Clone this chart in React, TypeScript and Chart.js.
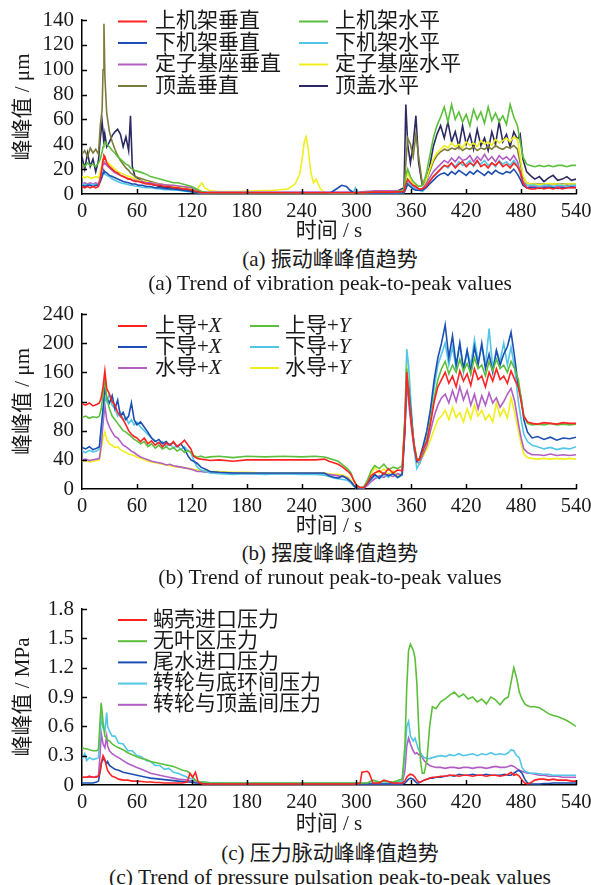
import React, { useEffect, useRef } from "react";
import { Chart, registerables } from "chart.js";
Chart.register(...registerables);

const FONT = '"Liberation Serif", "Noto Sans CJK SC", serif';
const TEXT = "#1a1a1a";

const C_RED = "#ff2222";
const C_GREEN = "#5cbf3c";
const C_BLUE = "#1d4fb2";
const C_CYAN = "#52c6e6";
const C_MAGENTA = "#b25ec4";
const C_YELLOW = "#f0ef1c";
const C_OLIVE = "#7c7b3c";
const C_NAVY = "#2b2b62";

const xTickLabels = ["0", "60", "120", "180", "240", "300", "360", "420", "480", "540"];

// ---------- Panel (a): vibration peak-to-peak (μm) ----------
const timeA = [
  0, 3, 6, 9, 12, 15, 18, 20, 22, 23,
  24, 25, 27, 30, 33, 36, 39, 42, 45, 48,
  51, 53, 55, 58, 62, 66, 70, 75, 80, 85,
  90, 95, 100, 105, 110, 115, 120, 125, 128, 131,
  134, 140, 150, 170, 190, 210, 225, 233, 238, 241,
  243, 245, 247, 250, 253, 256, 260, 265, 272, 278,
  284, 289, 293, 297, 299, 302, 320, 340, 352, 354,
  356, 359, 362, 365, 368, 372, 376, 380, 384, 388,
  392, 396, 400, 404, 408, 412, 416, 420, 424, 428,
  432, 436, 440, 444, 448, 452, 456, 460, 464, 468,
  472, 476, 479, 482, 486, 490, 495, 500, 505, 510,
  515, 520, 525, 530, 535, 540,
];
const upperFrameVert = [
  6, 5, 6, 5, 6, 5, 6, 12, 22, 28,
  31, 30, 25, 22, 20, 18, 17, 15, 14, 13,
  12, 12, 11, 10, 10, 9, 8, 8, 7, 7,
  6, 6, 5, 5, 4, 4, 3, 2, 1.5, 1,
  1, 1, 1, 1, 1, 1, 1, 1, 1, 1,
  1, 1, 1, 1, 1, 1, 1, 1, 1, 1,
  1, 1, 1, 1, 1, 1, 1.5, 1.5, 2, 8,
  12, 9, 7, 6, 4, 4, 6, 10, 14, 17,
  20, 23, 22, 25, 21, 24, 26, 22, 25, 23,
  27, 22, 24, 21, 25, 23, 26, 22, 24, 21,
  25, 22, 18, 9, 5, 4, 4, 5, 4, 5,
  4, 5, 4, 5, 5, 5,
];
const upperFrameHoriz = [
  24, 22, 25, 23, 24, 22, 25, 28, 34, 38,
  40, 42, 40, 38, 35, 33, 30, 28, 26, 24,
  23, 21, 20, 19, 18, 17, 16, 14, 13, 12,
  11, 10, 9, 9, 8, 7, 6, 4, 3, 2,
  1.5, 1, 1, 1, 1, 1, 1, 1, 1, 1,
  1, 1, 1, 1, 1, 1, 1, 1, 1, 1,
  1, 1, 1, 1, 1, 1, 1.5, 1.5, 3, 15,
  20, 14, 10, 8, 6, 7, 15, 30, 45, 55,
  62, 70, 58, 72, 60, 66, 58, 64, 55, 68,
  60, 66, 57, 70, 59, 65, 58, 63, 56, 72,
  62, 55, 42, 30, 24, 23, 22, 23, 22, 23,
  22, 23, 23, 22, 23, 23,
];
const lowerFrameVert = [
  7, 6, 7, 7, 6, 7, 7, 10, 14, 17,
  19, 18, 17, 15, 14, 13, 12, 11, 10, 9.5,
  9, 8.5, 8, 8, 7, 7, 6, 6, 5, 5,
  4.5, 4, 4, 3.5, 3, 2.5, 2, 1.5, 1, 1,
  1, 0.8, 0.8, 0.8, 0.8, 0.8, 0.8, 0.8, 0.8, 0.8,
  0.8, 0.8, 0.8, 0.8, 0.8, 0.8, 0.8, 0.8, 1, 4,
  7, 6, 3, 1, 0.8, 0.8, 0.8, 0.8, 1, 4,
  8, 6, 4, 3, 3, 3, 5, 8, 11, 14,
  16, 17, 15, 18, 16, 19, 17, 15, 18, 16,
  19, 17, 15, 18, 16, 19, 17, 16, 18, 17,
  20, 16, 12, 7, 5, 5, 5, 4.5, 5, 5.5,
  5, 4.5, 5, 5, 5.5, 5,
];
const lowerFrameHoriz = [
  8, 7, 8, 7, 8, 7, 8, 11, 14, 16,
  17, 16, 15, 14, 12, 11, 10, 9, 8.5, 8,
  7.5, 7, 7, 6.5, 6, 5.5, 5, 5, 4.5, 4,
  3.5, 3.5, 3, 3, 2.5, 2, 1.5, 1, 0.8, 0.5,
  0.5, 0.5, 0.5, 0.5, 0.5, 0.5, 0.5, 0.5, 0.5, 0.5,
  0.5, 0.5, 0.5, 0.5, 0.5, 0.5, 0.5, 0.5, 0.5, 0.5,
  0.5, 0.5, 0.5, 2, 5, 1, 0.5, 0.5, 1, 6,
  10, 8, 5, 4, 3, 2, 5, 10, 14, 17,
  20, 23, 21, 25, 22, 26, 23, 24, 27, 22,
  26, 24, 27, 23, 25, 22, 27, 24, 26, 23,
  27, 23, 16, 9, 7, 7, 7, 6, 7, 7,
  6, 7, 7, 6, 7, 7,
];
const statorVert = [
  8, 9, 8, 9, 8, 9, 8, 13, 20, 24,
  26, 25, 23, 21, 19, 17, 16, 15, 14, 13,
  12, 12, 11, 11, 10, 10, 9, 9, 8, 8,
  7.5, 7, 7, 6.5, 6, 5.5, 5, 3.5, 2, 1.5,
  1.5, 1.5, 1.5, 1.5, 1.5, 1.5, 1.5, 1.5, 1.5, 1.5,
  1.5, 1.5, 1.5, 1.5, 1.5, 1.5, 1.5, 1.5, 1.5, 1.5,
  1.5, 1.5, 1.5, 1.5, 1.5, 1.5, 2.5, 2.5, 3, 7,
  10, 8, 6, 5, 4, 4, 8, 13, 18, 21,
  24, 27, 25, 29, 26, 30, 27, 28, 31, 26,
  30, 27, 32, 27, 30, 26, 31, 28, 30, 27,
  31, 26, 18, 10, 7, 6, 6, 6, 6, 7,
  6, 6, 6, 7, 6, 6,
];
const statorHoriz = [
  14, 13, 14, 13, 13, 14, 13, 18, 24, 28,
  30, 29, 26, 24, 22, 20, 18, 17, 16, 15,
  14, 14, 13, 12, 11, 10, 10, 9, 8.5, 8,
  7.5, 7, 6.5, 6, 5.5, 5, 4, 3, 6, 9,
  5, 2.5, 2, 2, 2.5, 3, 4, 8, 16, 30,
  42, 46, 38, 18, 9, 12, 5, 1, 0.5, 0.5,
  0.5, 0.5, 0.5, 0.5, 0.5, 0.5, 0.5, 0.5, 2, 12,
  17, 12, 8, 6, 4, 4, 10, 20, 28, 33,
  36, 39, 37, 41, 38, 40, 37, 42, 39, 41,
  38, 43, 40, 42, 39, 44, 41, 43, 45, 42,
  46, 44, 30, 15, 9, 8, 8, 7.5, 8, 8.5,
  8, 8, 7.5, 8, 8, 8,
];
const headCoverVert = [
  32, 35, 30, 37, 33, 36, 32, 55, 68, 100,
  137, 95, 65, 50, 42, 36, 31, 27, 24, 21,
  19, 17, 16, 14, 13, 12, 11, 10, 9, 8,
  7.5, 7, 6, 5.5, 5, 4.5, 4, 3, 2, 1.5,
  1, 1, 1, 1, 1, 1, 1, 1, 1, 1,
  1, 1, 1, 1, 1, 1, 1, 1, 1, 1,
  1, 1, 1, 1, 1, 1, 1, 1, 3, 25,
  45, 40, 30, 48, 30, 8, 10, 18, 26, 31,
  34, 36, 35, 37, 36, 38, 35, 37, 36, 38,
  35, 37, 36, 38, 36, 39, 37, 36, 38, 37,
  39, 36, 25, 14, 9, 8, 8, 8, 8, 8,
  8, 8, 8, 8, 8, 8,
];
const headCoverHoriz = [
  30, 20, 33, 22, 28, 18, 27, 45, 58, 50,
  40, 48, 38, 42, 47, 50, 52, 48, 38, 46,
  35, 63, 22, 14, 12, 10, 9, 8, 7, 6,
  5.5, 5, 4.5, 4, 3.5, 3, 2.5, 2, 1.5, 1,
  1, 0.7, 0.7, 0.7, 0.7, 0.7, 0.7, 0.7, 0.7, 0.7,
  0.7, 0.7, 0.7, 0.7, 0.7, 0.7, 0.7, 0.7, 0.7, 0.7,
  0.7, 0.7, 0.7, 0.7, 0.7, 0.7, 0.7, 0.7, 5, 72,
  40, 25, 40, 63, 25, 7, 10, 22, 38, 48,
  55, 45, 58, 42, 50, 38, 55, 40, 48, 36,
  52, 39, 45, 35, 50, 40, 58, 42, 48, 38,
  50, 44, 48, 28, 18, 15, 12, 14, 10, 13,
  15, 11, 12, 14, 11, 12,
];
const yTicksA = [0, 20, 40, 60, 80, 100, 120, 140];

// ---------- Panel (b): runout peak-to-peak (μm) ----------
const timeB = [
  0, 4, 8, 12, 16, 19, 21, 23, 25, 27,
  30, 33, 36, 39, 42, 45, 48, 51, 54, 57,
  60, 64, 68, 72, 76, 80, 84, 88, 92, 96,
  100, 104, 108, 112, 116, 119, 122, 126, 130, 135,
  140, 150, 165, 180, 200, 220, 240, 255, 265, 270,
  275, 280, 285, 290, 294, 297, 300, 304, 308, 312,
  316, 320, 325, 330, 335, 340, 345, 350, 353, 355,
  357, 360, 363, 366, 369, 373, 377, 381, 385, 389,
  393, 397, 401, 405, 409, 413, 417, 421, 425, 429,
  433, 437, 441, 445, 449, 453, 457, 461, 465, 469,
  473, 477, 480, 483, 487, 492, 498, 505, 512, 519,
  526, 533, 540,
];
const upperGuideX = [
  117, 115, 118, 114, 116, 118, 125, 140, 162, 138,
  130, 120, 115, 105, 100, 95, 88, 80, 75, 72,
  70, 65, 70, 62, 66, 60, 64, 58, 63, 60,
  65, 58, 62, 67, 60, 55, 45, 42, 41, 40,
  39, 40, 38, 40, 40, 40, 40, 40, 41, 38,
  36, 34, 30, 25, 20, 12, 5, 2, 2, 8,
  18, 22, 25, 20, 28, 22, 26, 25, 90, 160,
  130, 90, 60, 40, 40, 55, 65, 90, 120, 140,
  150, 160, 145, 155, 140, 162, 148, 158, 142, 165,
  150, 155, 140, 160, 148, 165, 150, 155, 145, 162,
  150, 140, 120, 100, 92, 90, 89, 91, 90, 89,
  91, 90, 90,
];
const upperGuideY = [
  98, 100, 97, 99, 98, 100, 110, 130, 150, 125,
  110, 100, 95, 90, 85, 80, 78, 75, 72, 68,
  66, 62, 65, 58, 62, 56, 60, 55, 58, 54,
  57, 52, 55, 50, 53, 50, 46, 44, 45, 43,
  44, 45, 43, 45, 44, 45, 44, 45, 44, 42,
  40, 38, 33, 28, 22, 12, 5, 2, 3, 12,
  25, 32, 28, 34, 26, 30, 28, 32, 95, 165,
  135, 95, 62, 42, 40, 52, 68, 95, 125, 150,
  165, 175, 158, 170, 160, 178, 162, 172, 158, 180,
  165, 170, 155, 175, 162, 178, 165, 170, 160, 175,
  165, 150, 125, 100, 90, 88, 89, 88, 90, 88,
  89, 88, 89,
];
const lowerGuideX = [
  57, 55, 58, 54, 56, 58, 85, 110, 140, 125,
  118, 128, 110, 122, 100, 105, 95, 100, 118, 95,
  88, 92, 85, 78, 70, 65, 68, 62, 65, 60,
  64, 58, 62, 55, 45, 40, 38, 35, 30, 27,
  24, 23, 22, 22, 22, 22, 22, 22, 22, 18,
  16, 15, 18, 14, 10, 5, 1, 1, 2, 8,
  14, 20, 15, 22, 18, 21, 16, 20, 80, 150,
  140, 100, 60, 38, 42, 60, 80, 110, 150, 180,
  200, 225, 180, 210, 170, 200, 165, 190, 160, 195,
  170, 200, 165, 185, 160, 190, 170, 185, 195, 215,
  180, 140, 125, 95, 78, 70, 72, 68, 71, 67,
  70, 69, 71,
];
const lowerGuideY = [
  52, 50, 53, 51, 52, 55, 80, 105, 125, 120,
  130, 115, 110, 100, 105, 95, 98, 90, 95, 88,
  92, 85, 80, 75, 70, 66, 62, 65, 58, 62,
  56, 60, 54, 58, 52, 50, 40, 30, 26, 24,
  22, 21, 20, 21, 20, 21, 20, 20, 19, 17,
  15, 14, 13, 12, 8, 4, 1, 1, 2, 7,
  12, 18, 14, 20, 16, 22, 15, 19, 100, 192,
  170, 110, 55, 28, 35, 55, 78, 105, 140, 170,
  185, 200, 170, 195, 165, 200, 160, 190, 170, 205,
  175, 195, 170, 220, 165, 190, 175, 200, 170, 195,
  165, 120, 95, 75, 65, 60, 58, 55, 57, 54,
  56, 55, 58,
];
const turbineGuideX = [
  40, 41, 39, 40, 41, 42, 60, 90, 115, 95,
  85, 78, 72, 70, 65, 60, 58, 55, 52, 50,
  47, 44, 42, 40, 38, 37, 36, 35, 33, 34,
  32, 31, 30, 29, 28, 27, 26, 24, 24, 23,
  23, 22, 22, 21, 21, 21, 21, 21, 21, 20,
  19, 18, 17, 15, 10, 5, 1, 0.5, 1, 5,
  10, 14, 18, 16, 20, 17, 21, 19, 80, 145,
  120, 85, 55, 38, 35, 48, 60, 80, 100, 115,
  125, 130, 118, 135, 120, 140, 122, 135, 115, 130,
  110, 128, 115, 132, 118, 125, 112, 120, 130, 138,
  120, 90, 70, 55, 50, 47, 47, 46, 48, 46,
  47, 46, 47,
];
const turbineGuideY = [
  38, 39, 37, 38, 39, 40, 55, 70, 78, 68,
  62, 60, 57, 58, 54, 52, 50, 48, 47, 46,
  44, 42, 40, 38, 37, 36, 35, 34, 33, 32,
  31, 30, 30, 29, 28, 28, 27, 26, 25, 25,
  24, 24, 23, 23, 22, 22, 22, 22, 22, 21,
  20, 20, 19, 17, 12, 6, 1, 0.5, 2, 10,
  20, 30, 22, 28, 20, 25, 18, 22, 100, 180,
  140, 90, 55, 35, 38, 45, 55, 68, 82, 95,
  100, 108, 95, 112, 98, 105, 92, 110, 96, 115,
  100, 108, 95, 102, 92, 118, 100, 110, 97, 125,
  105, 80, 62, 48, 43, 42, 41, 42, 41, 42,
  41, 42, 41,
];
const yTicksB = [0, 40, 80, 120, 160, 200, 240];

// ---------- Panel (c): pressure pulsation peak-to-peak (MPa) ----------
const timeC = [
  0, 3, 5, 8, 12, 16, 18, 20, 21, 23,
  25, 27, 28, 30, 33, 36, 40, 45, 50, 55,
  60, 65, 70, 75, 80, 85, 90, 95, 100, 105,
  110, 115, 118, 121, 124, 127, 132, 140, 160, 200,
  240, 280, 300, 304, 306, 312, 314, 318, 325, 330,
  340, 350, 353, 355, 357, 359, 362, 364, 366, 368,
  370, 372, 374, 377, 380, 383, 387, 392, 397, 402,
  407, 412, 417, 422, 427, 432, 437, 442, 447, 452,
  457, 462, 466, 469, 472, 475, 478, 481, 484, 487,
  490, 495, 500, 505, 510, 515, 520, 525, 530, 535,
  540,
];
const spiralInlet = [
  0.08, 0.08, 0.08, 0.09, 0.08, 0.08, 0.09, 0.15, 0.22, 0.30,
  0.26, 0.18, 0.15, 0.12, 0.09, 0.08, 0.06, 0.05, 0.05, 0.04,
  0.04, 0.035, 0.03, 0.03, 0.025, 0.025, 0.02, 0.02, 0.02, 0.02,
  0.02, 0.03, 0.12, 0.08, 0.13, 0.03, 0.01, 0.01, 0.01, 0.01,
  0.01, 0.01, 0.01, 0.02, 0.13, 0.14, 0.12, 0.02, 0.02, 0.05,
  0.02, 0.02, 0.04, 0.08, 0.10, 0.11, 0.10, 0.08, 0.05, 0.03,
  0.03, 0.04, 0.05, 0.06, 0.07, 0.08, 0.08, 0.09, 0.09, 0.10,
  0.10, 0.09, 0.10, 0.10, 0.09, 0.10, 0.10, 0.09, 0.10, 0.10,
  0.09, 0.10, 0.11, 0.13, 0.10, 0.11, 0.09, 0.05, 0.02, 0.01,
  0.02, 0.05, 0.06, 0.06, 0.05, 0.06, 0.05, 0.05, 0.05, 0.04,
  0.04,
];
const vanelessSpace = [
  0.38, 0.37, 0.37, 0.36, 0.35, 0.35, 0.36, 0.70, 0.84, 0.65,
  0.50, 0.48, 0.46, 0.45, 0.42, 0.40, 0.38, 0.36, 0.33, 0.31,
  0.29, 0.27, 0.26, 0.24, 0.23, 0.22, 0.21, 0.20, 0.19, 0.17,
  0.15, 0.14, 0.12, 0.08, 0.05, 0.03, 0.03, 0.02, 0.02, 0.02,
  0.02, 0.02, 0.02, 0.02, 0.02, 0.02, 0.03, 0.05, 0.03, 0.04,
  0.03, 0.06, 0.40, 1.00, 1.38, 1.44, 1.38, 1.30, 1.05, 0.60,
  0.25, 0.12, 0.12, 0.25, 0.60, 0.80, 0.78, 0.85, 0.88, 0.92,
  0.95, 0.90, 0.93, 0.88, 0.90, 0.85, 0.88, 0.83, 0.90, 0.87,
  0.82, 0.88, 0.90, 1.05, 1.20, 1.10, 0.95, 0.88, 0.83, 0.81,
  0.80, 0.80, 0.79, 0.76, 0.73, 0.71, 0.70, 0.68, 0.66, 0.63,
  0.60,
];
const draftInlet = [
  0.02, 0.02, 0.02, 0.02, 0.02, 0.03, 0.04, 0.15, 0.22, 0.27,
  0.25, 0.22, 0.24, 0.20, 0.18, 0.16, 0.15, 0.13, 0.12, 0.11,
  0.10, 0.09, 0.08, 0.07, 0.065, 0.06, 0.055, 0.05, 0.045, 0.04,
  0.035, 0.03, 0.03, 0.025, 0.02, 0.02, 0.015, 0.01, 0.01, 0.01,
  0.01, 0.01, 0.01, 0.01, 0.01, 0.01, 0.01, 0.01, 0.01, 0.01,
  0.01, 0.01, 0.02, 0.04, 0.06, 0.07, 0.06, 0.04, 0.02, 0.02,
  0.03, 0.04, 0.05, 0.06, 0.07, 0.07, 0.08, 0.08, 0.09, 0.10,
  0.09, 0.11, 0.10, 0.10, 0.11, 0.10, 0.10, 0.11, 0.10, 0.10,
  0.10, 0.11, 0.10, 0.10, 0.12, 0.14, 0.15, 0.12, 0.06, 0.02,
  0.01, 0.01, 0.01, 0.015, 0.015, 0.02, 0.02, 0.02, 0.02, 0.02,
  0.02,
];
const runnerBottomRing = [
  0.27, 0.32, 0.25, 0.28, 0.26, 0.27, 0.28, 0.55, 0.70, 0.58,
  0.55, 0.74, 0.60, 0.55, 0.50, 0.50, 0.43, 0.42, 0.35, 0.35,
  0.30, 0.29, 0.25, 0.24, 0.20, 0.20, 0.16, 0.17, 0.13, 0.12,
  0.10, 0.08, 0.07, 0.06, 0.04, 0.03, 0.03, 0.025, 0.02, 0.02,
  0.02, 0.02, 0.02, 0.02, 0.02, 0.02, 0.02, 0.02, 0.02, 0.02,
  0.02, 0.04, 0.30, 0.60, 0.65, 0.50, 0.45, 0.48, 0.42, 0.36,
  0.33, 0.30, 0.28, 0.27, 0.27, 0.28, 0.29, 0.30, 0.29, 0.31,
  0.30, 0.32, 0.30, 0.31, 0.32, 0.30, 0.32, 0.31, 0.33, 0.31,
  0.32, 0.31, 0.33, 0.36, 0.35, 0.30, 0.28, 0.18, 0.14, 0.13,
  0.12, 0.12, 0.115, 0.11, 0.11, 0.10, 0.10, 0.10, 0.10, 0.10,
  0.10,
];
const runnerHeadCover = [
  0.08, 0.08, 0.08, 0.08, 0.08, 0.09, 0.09, 0.35, 0.53, 0.42,
  0.38, 0.50, 0.40, 0.35, 0.32, 0.30, 0.28, 0.25, 0.22, 0.20,
  0.18, 0.16, 0.14, 0.12, 0.11, 0.10, 0.09, 0.08, 0.07, 0.06,
  0.055, 0.05, 0.045, 0.04, 0.03, 0.02, 0.015, 0.01, 0.01, 0.01,
  0.01, 0.01, 0.01, 0.01, 0.01, 0.01, 0.01, 0.01, 0.01, 0.01,
  0.01, 0.01, 0.15, 0.40, 0.48, 0.42, 0.35, 0.32, 0.33, 0.31,
  0.32, 0.28, 0.25, 0.22, 0.20, 0.19, 0.18, 0.18, 0.17, 0.18,
  0.18, 0.17, 0.18, 0.18, 0.17, 0.18, 0.18, 0.17, 0.18, 0.19,
  0.18, 0.18, 0.19, 0.20, 0.19, 0.17, 0.15, 0.14, 0.13, 0.12,
  0.12, 0.11, 0.10, 0.10, 0.09, 0.09, 0.09, 0.08, 0.08, 0.08,
  0.08,
];
const yTicksC = [0, 0.3, 0.6, 0.9, 1.2, 1.5, 1.8];

// ---------- panel specs ----------
type Series = { label: string; color: string; values: number[] };
type Panel = {
  top: number;
  height: number;
  xAxisH: number;
  time: number[];
  series: Series[];
  yTicks: number[];
  yTitle: string;
  legendCols: number;
  legendLineX: number[];
  legendTextX: number[];
  legendY0: number;
  legendDy: number;
  captionCn: string;
  captionEn: string;
  capCnY: number;
  capEnY: number;
};

const panels: Panel[] = [
  {
    top: 0, height: 244, xAxisH: 50, time: timeA,
    series: [
      { label: "上机架垂直", color: C_RED, values: upperFrameVert },
      { label: "上机架水平", color: C_GREEN, values: upperFrameHoriz },
      { label: "下机架垂直", color: C_BLUE, values: lowerFrameVert },
      { label: "下机架水平", color: C_CYAN, values: lowerFrameHoriz },
      { label: "定子基座垂直", color: C_MAGENTA, values: statorVert },
      { label: "定子基座水平", color: C_YELLOW, values: statorHoriz },
      { label: "顶盖垂直", color: C_OLIVE, values: headCoverVert },
      { label: "顶盖水平", color: C_NAVY, values: headCoverHoriz },
    ],
    yTicks: yTicksA, yTitle: "峰峰值 / μm",
    legendCols: 2, legendLineX: [118, 299], legendTextX: [155, 335], legendY0: 21.5, legendDy: 21.5,
    captionCn: "(a) 振动峰峰值趋势", captionEn: "(a) Trend of vibration peak-to-peak values",
    capCnY: 259, capEnY: 283,
  },
  {
    top: 294, height: 245, xAxisH: 50, time: timeB,
    series: [
      { label: "上导+X", color: C_RED, values: upperGuideX },
      { label: "上导+Y", color: C_GREEN, values: upperGuideY },
      { label: "下导+X", color: C_BLUE, values: lowerGuideX },
      { label: "下导+Y", color: C_CYAN, values: lowerGuideY },
      { label: "水导+X", color: C_MAGENTA, values: turbineGuideX },
      { label: "水导+Y", color: C_YELLOW, values: turbineGuideY },
    ],
    yTicks: yTicksB, yTitle: "峰峰值 / μm",
    legendCols: 2, legendLineX: [118, 250], legendTextX: [155, 285], legendY0: 32, legendDy: 21,
    captionCn: "(b) 摆度峰峰值趋势", captionEn: "(b) Trend of runout peak-to-peak values",
    capCnY: 553, capEnY: 577,
  },
  {
    top: 589, height: 248, xAxisH: 52, time: timeC,
    series: [
      { label: "蜗壳进口压力", color: C_RED, values: spiralInlet },
      { label: "无叶区压力", color: C_GREEN, values: vanelessSpace },
      { label: "尾水进口压力", color: C_BLUE, values: draftInlet },
      { label: "转轮与底环间压力", color: C_CYAN, values: runnerBottomRing },
      { label: "转轮与顶盖间压力", color: C_MAGENTA, values: runnerHeadCover },
    ],
    yTicks: yTicksC, yTitle: "峰峰值 / MPa",
    legendCols: 1, legendLineX: [118], legendTextX: [153], legendY0: 31, legendDy: 21.2,
    captionCn: "(c) 压力脉动峰峰值趋势", captionEn: "(c) Trend of pressure pulsation peak-to-peak values",
    capCnY: 853, capEnY: 877,
  },
];

const LEGEND_SIZE = 21;

function overlayPlugin(p: Panel) {
  return {
    id: "panelOverlay",
    afterDraw(chart: any) {
      const ctx: CanvasRenderingContext2D = chart.ctx;
      const area = chart.chartArea;
      ctx.save();
      // inward tick marks
      ctx.strokeStyle = "#000";
      ctx.lineWidth = 1.5;
      const xs = chart.scales.x;
      const ys = chart.scales.y;
      xs.ticks.forEach((t: any) => {
        const px = Math.round(xs.getPixelForValue(t.value)) + 0.5;
        if (px <= area.left + 2) return;
        ctx.beginPath();
        ctx.moveTo(px, area.bottom);
        ctx.lineTo(px, area.bottom - 5);
        ctx.stroke();
      });
      ys.ticks.forEach((t: any) => {
        const py = Math.round(ys.getPixelForValue(t.value)) + 0.5;
        if (py >= area.bottom - 2) return;
        ctx.beginPath();
        ctx.moveTo(area.left, py);
        ctx.lineTo(area.left + 5, py);
        ctx.stroke();
      });
      // legend
      p.series.forEach((s, i) => {
        const col = i % p.legendCols;
        const row = Math.floor(i / p.legendCols);
        const y = p.legendY0 + row * p.legendDy;
        const lx = p.legendLineX[col];
        ctx.strokeStyle = s.color;
        ctx.lineWidth = 2;
        ctx.beginPath();
        ctx.moveTo(lx, y);
        ctx.lineTo(lx + 29, y);
        ctx.stroke();
        ctx.fillStyle = TEXT;
        ctx.textBaseline = "middle";
        ctx.textAlign = "left";
        let x = p.legendTextX[col];
        const m = s.label.match(/^(.*\+)([XY])$/);
        if (m) {
          ctx.font = `${LEGEND_SIZE}px ${FONT}`;
          ctx.fillText(m[1], x, y);
          x += ctx.measureText(m[1]).width;
          ctx.font = `italic ${LEGEND_SIZE}px ${FONT}`;
          ctx.fillText(m[2], x, y);
        } else {
          ctx.font = `${LEGEND_SIZE}px ${FONT}`;
          ctx.fillText(s.label, x, y);
        }
      });
      ctx.restore();
    },
  };
}

function PanelChart({ p }: { p: Panel }) {
  const ref = useRef<HTMLCanvasElement | null>(null);
  useEffect(() => {
    if (!ref.current) return;
    const yMax = p.yTicks[p.yTicks.length - 1];
    const yStep = p.yTicks[1] - p.yTicks[0];
    const chart = new Chart(ref.current, {
      type: "line",
      data: {
        datasets: p.series.map((s) => ({
          label: s.label,
          data: p.time.map((t, i) => ({ x: t, y: s.values[i] })),
          borderColor: s.color,
          backgroundColor: s.color,
          borderWidth: 1.6,
          pointRadius: 0,
          tension: 0,
          fill: false,
        })),
      },
      options: {
        responsive: false,
        animation: false,
        devicePixelRatio: 1,
        events: [],
        layout: { padding: { left: 0, right: 15, top: 20, bottom: 0 } },
        plugins: { legend: { display: false }, tooltip: { enabled: false } },
        scales: {
          x: {
            type: "linear",
            min: 0,
            max: 540,
            grid: { display: false, drawTicks: false },
            border: { display: true, color: "#000", width: 1.5 },
            ticks: {
              stepSize: 60,
              padding: 5,
              autoSkip: false,
              maxRotation: 0,
              color: TEXT,
              font: { family: FONT, size: 20.5 },
              callback: (v: any) => {
                const idx = Math.round(Number(v) / 60);
                return xTickLabels[idx] ?? String(v);
              },
            },
            title: {
              display: true,
              text: "时间 / s",
              color: TEXT,
              font: { family: FONT, size: 21 },
              padding: { top: 0, bottom: 0 },
            },
            afterFit: (s: any) => {
              s.height = p.xAxisH;
              s.paddingLeft = 0;
              s.paddingRight = 0;
            },
          } as any,
          y: {
            type: "linear",
            min: 0,
            max: yMax,
            grid: { display: false, drawTicks: false },
            border: { display: true, color: "#000", width: 1.5 },
            ticks: {
              stepSize: yStep,
              padding: 8,
              autoSkip: false,
              color: TEXT,
              font: { family: FONT, size: 21 },
              callback: (v: any) => {
                const n = Number(v);
                const hit = p.yTicks.find((t) => Math.abs(t - n) < 1e-6);
                if (hit === undefined) return "";
                return hit === 0 ? "0" : yStep < 1 ? hit.toFixed(1) : String(hit);
              },
            },
            title: {
              display: true,
              text: p.yTitle,
              color: TEXT,
              font: { family: FONT, size: 21 },
              padding: { top: 11, bottom: 0 },
            },
            afterFit: (s: any) => {
              s.width = 82;
              s.paddingTop = 0;
              s.paddingBottom = 0;
            },
          } as any,
        },
      },
      plugins: [overlayPlugin(p)],
    } as any);
    return () => chart.destroy();
  }, [p]);
  return (
    <canvas
      ref={ref}
      width={591}
      height={p.height}
      style={{ position: "absolute", left: 0, top: p.top, width: 591, height: p.height }}
    />
  );
}

export default function App() {
  const capStyle = (y: number, size: number): React.CSSProperties => ({
    position: "absolute",
    left: 0,
    width: 660,
    top: y - 13,
    height: 26,
    lineHeight: "26px",
    textAlign: "center",
    fontFamily: FONT,
    fontSize: size,
    color: TEXT,
    whiteSpace: "nowrap",
  });
  return (
    <div
      style={{
        position: "absolute",
        left: 0,
        top: 0,
        width: 591,
        height: 885,
        overflow: "hidden",
        background: "#fff",
      }}
    >
      {panels.map((p, i) => (
        <PanelChart key={i} p={p} />
      ))}
      {panels.map((p, i) => (
        <React.Fragment key={"c" + i}>
          <div style={capStyle(p.capCnY, 21)}>{p.captionCn}</div>
          <div style={capStyle(p.capEnY, 21.5)}>{p.captionEn}</div>
        </React.Fragment>
      ))}
    </div>
  );
}
